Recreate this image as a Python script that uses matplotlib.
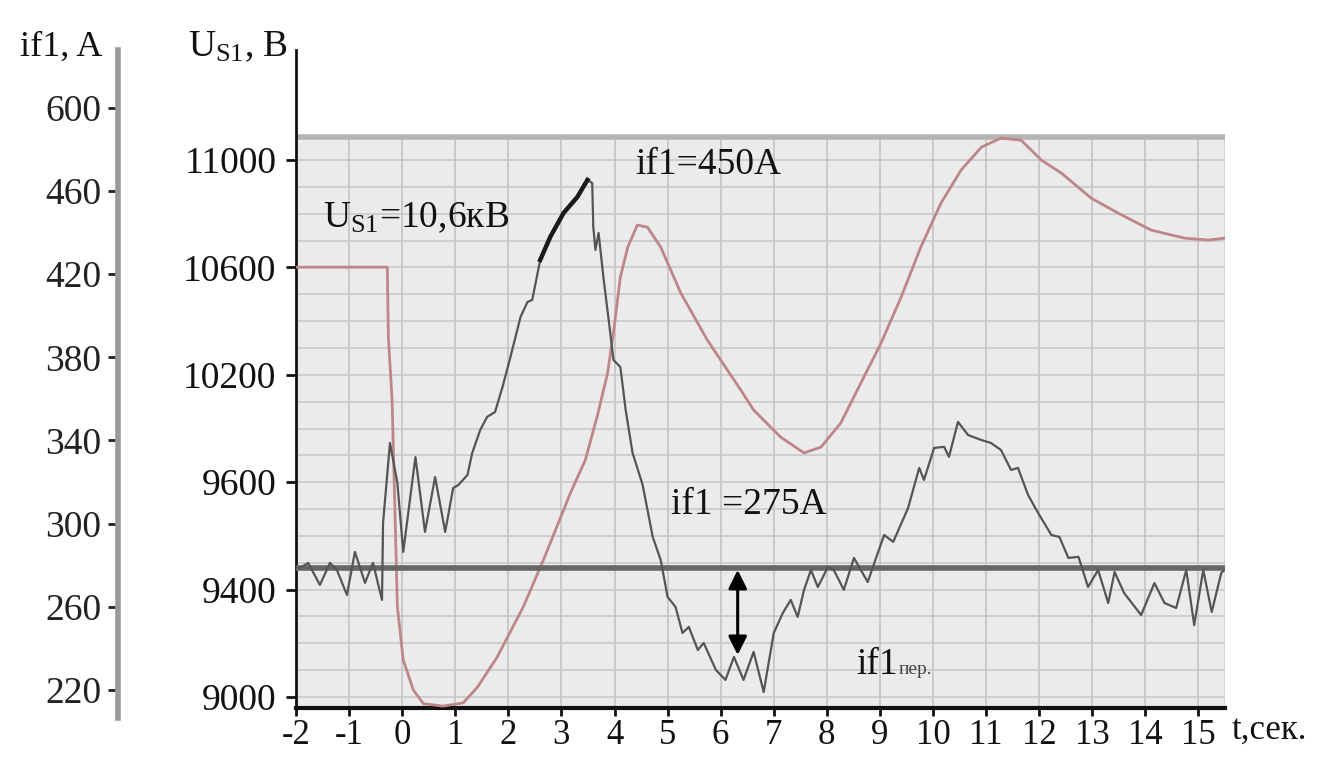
import numpy as np
import matplotlib
matplotlib.use("Agg")
import matplotlib.pyplot as plt

plt.rcParams['font.family'] = ['Liberation Serif', 'DejaVu Serif']
plt.rcParams['mathtext.fontset'] = 'custom'
plt.rcParams['mathtext.rm'] = 'Liberation Serif'
plt.rcParams['mathtext.it'] = 'Liberation Serif:italic'

# ---------------- data ----------------
# field current i_f1 (gray, noisy) -- time [s], current [A]
t_if = [-2.00, -1.92, -1.77, -1.55, -1.36, -1.23, -1.04, -0.89, -0.70, -0.55, -0.38,
        -0.36, -0.23, -0.09, 0.02, 0.25, 0.43, 0.62, 0.81, 0.96, 1.06, 1.23, 1.32,
        1.47, 1.60, 1.75, 1.89, 2.04, 2.23, 2.36, 2.45, 2.60, 2.79, 3.04, 3.30, 3.49,
        3.58, 3.60, 3.64, 3.70, 3.79, 3.89, 3.98, 4.11, 4.21, 4.34, 4.53, 4.72, 4.87,
        5.00, 5.15, 5.28, 5.40, 5.57, 5.68, 5.91, 6.09, 6.25, 6.43, 6.62, 6.81, 7.00,
        7.17, 7.32, 7.45, 7.57, 7.70, 7.83, 8.02, 8.13, 8.32, 8.51, 8.77, 8.96, 9.08,
        9.25, 9.53, 9.74, 9.83, 10.02, 10.21, 10.30, 10.47, 10.66, 10.91, 11.09, 11.28,
        11.47, 11.60, 11.79, 11.98, 12.23, 12.38, 12.55, 12.74, 12.92, 13.11, 13.30,
        13.42, 13.60, 13.92, 14.17, 14.36, 14.58, 14.77, 14.92, 15.09, 15.25, 15.43, 15.49]
i_f1 = [279.1, 278.7, 281.1, 270.5, 281.1, 277.7, 265.7, 286.4, 271.5, 281.1, 263.3,
        300.3, 338.8, 319.5, 286.4, 332.0, 296.0, 322.4, 296.0, 317.1, 318.6, 323.4, 334.0,
        345.0, 351.3, 353.7, 365.7, 380.2, 399.4, 406.6, 407.6, 426.8, 437.9, 449.4, 457.1, 465.3,
        463.8, 442.7, 431.6, 439.8, 418.6, 398.0, 378.7, 375.3, 354.7, 334.0, 318.6, 293.6, 282.5,
        264.7, 259.9, 247.4, 250.3, 239.2, 242.6, 229.6, 224.8, 235.9, 224.8, 238.3, 219.0, 247.4,
        257.0, 263.3, 255.1, 268.1, 277.7, 269.5, 279.1, 277.7, 268.1, 283.5, 271.9, 285.9, 294.5,
        291.2, 307.5, 326.8, 321.0, 336.4, 336.9, 332.1, 348.9, 342.6, 340.2, 338.8, 335.4,
        325.8, 326.8, 313.8, 305.1, 294.5, 293.6, 283.5, 284.0, 269.5, 277.7, 261.8,
        276.7, 266.6, 256.0, 271.4, 261.8, 259.4, 277.7, 251.2, 277.7, 257.5, 276.3, 277.7]

# stator voltage U_S1 (red) -- time [s], voltage [V]
t_u = [-2.00, -0.28, -0.26, -0.19, -0.09, 0.02, 0.21, 0.40, 0.77, 1.15, 1.42, 1.79,
       2.28, 2.66, 3.17, 3.45, 3.68, 3.87, 3.98, 4.11, 4.25, 4.43, 4.62, 4.87, 5.25,
       5.75, 6.00, 6.38, 6.62, 7.13, 7.57, 7.89, 8.26, 8.64, 9.02, 9.40, 9.77, 10.15,
       10.53, 10.91, 11.28, 11.66, 12.04, 12.42, 12.98, 13.49, 14.11, 14.74, 15.19, 15.49]
u_s1 = [10601, 10601, 10341, 10106, 9335, 9138, 9026, 8975, 8966, 8978, 9037, 9149,
        9335, 9510, 9760, 9883, 10050, 10207, 10356, 10564, 10676, 10758, 10750, 10676, 10504,
        10329, 10255, 10143, 10069, 9968, 9909, 9931, 10020, 10169, 10318, 10490, 10676, 10840,
        10963, 11048, 11082, 11074, 11000, 10951, 10858, 10802, 10739, 10709, 10702, 10709]

if1_ref = 278.7          # steady level labelled "i_f1 = 275A"
if1_dip = 236.8          # arrow end (i_f1 пер.)
t_arrow = 6.32

x_ticks = list(range(-2, 16))
u_tick_pos = [9000, 9400, 9800, 10200, 10600, 11000]
u_tick_lbl = ['9000', '9400', '9600', '10200', '10600', '11000']
i_tick_pos = [500, 460, 420, 380, 340, 300, 260, 220]
i_tick_lbl = ['600', '460', '420', '380', '340', '300', '260', '220']

# ---------------- figure ----------------
W, H = 1336, 761
fig = plt.figure(figsize=(W / 100, H / 100), dpi=100)
fig.patch.set_facecolor('white')

def fx(px):
    return px / W

def fy(py):
    return 1 - py / H

# main axes (U scale)
ax = fig.add_axes([fx(296), fy(708), fx(1225) - fx(296), fy(50) - fy(708)])
U_BOT, U_TOP, U_PANEL = 8959, 11410, 11086
ax.set_xlim(-2, 15.5)
ax.set_ylim(U_BOT, U_TOP)
ax.set_facecolor('none')
for s in ['top', 'right']:
    ax.spines[s].set_visible(False)
ax.spines['left'].set_linewidth(2)
ax.spines['left'].set_color('#111111')
ax.spines['bottom'].set_linewidth(3)
ax.spines['bottom'].set_color('#111111')

# panel background and grid
ax.axhspan(U_BOT, U_PANEL, xmin=0, xmax=1, color='#ebebeb', zorder=0, lw=0)
ax.hlines(np.arange(9000, 11001, 100), -2, 15.5, color='#cdcdcd', lw=1.3, zorder=1)
ax.vlines(x_ticks, U_BOT, U_PANEL, color='#c4c4c4', lw=1.2, zorder=1)
ax.vlines(15.5, U_BOT, U_PANEL, color='#d4d4d4', lw=2, zorder=1)
ax.hlines(U_PANEL, -2, 15.5, color='#b4b4b4', lw=4, zorder=2)

ax.plot(t_u, u_s1, color='#bd8688', lw=2.0, zorder=3, solid_joinstyle='round')

ax.set_xticks(x_ticks)
ax.set_xticklabels([str(v) for v in x_ticks])
ax.set_yticks(u_tick_pos)
ax.set_yticklabels(u_tick_lbl)
ax.tick_params(axis='y', direction='out', length=7, width=2, pad=7,
               labelsize=27, colors='#111111')
ax.tick_params(axis='x', direction='out', length=6, width=2, pad=2,
               labelsize=25, colors='#111111')

# twin axes for the field current (gray curve)
axi = ax.twinx()
axi.set_ylim(211.3, 527.8)
axi.set_xlim(-2, 15.5)
for s in axi.spines.values():
    s.set_visible(False)
axi.set_yticks([])
axi.axhline(if1_ref, color='#666666', lw=4, zorder=3)
axi.plot(t_if, i_f1, color='#555555', lw=1.6, zorder=4, solid_joinstyle='round')
tt = np.array(t_if)
ii = np.array(i_f1)
m = (tt >= 2.55) & (tt <= 3.5)
axi.plot(tt[m], ii[m], color='#1a1a1a', lw=3.2, zorder=5)
axi.annotate('', xy=(t_arrow, if1_ref - 1), xytext=(t_arrow, if1_dip),
             arrowprops=dict(arrowstyle='<|-|>', color='black', lw=2.2,
                             mutation_scale=28, shrinkA=0, shrinkB=0), zorder=6)

# outer axis for i_f1
axl = fig.add_axes([fx(118), fy(718), 0.0005, fy(50) - fy(718)])
axl.set_ylim(206.5, 527.8)
axl.set_xticks([])
axl.set_facecolor('none')
for s in ['top', 'right', 'bottom']:
    axl.spines[s].set_visible(False)
axl.spines['left'].set_linewidth(4)
axl.spines['left'].set_color('#9a9a9a')
axl.set_yticks(i_tick_pos)
axl.set_yticklabels(i_tick_lbl)
axl.tick_params(axis='y', direction='out', length=7, width=2, pad=5,
                labelsize=27, colors='#222222')

# axis titles
fig.text(fx(20), fy(47), 'if1, A', fontsize=26, va='center', ha='left', color='#111111')
fig.text(fx(188), fy(47), r'U$_{\mathrm{S1}}$, B', fontsize=27, va='center', ha='left',
         color='#111111')
fig.text(fx(1232), fy(730), 't,сек.', fontsize=25, va='center', ha='left', color='#111111')

# in-plot annotations
ax.text(-1.5, 10784, r'U$_{\mathrm{S1}}$=10,6кВ', fontsize=27, va='center', ha='left',
        color='#111111', zorder=7)
ax.text(4.40, 10981, 'if1=450A', fontsize=27, va='center', ha='left', color='#111111', zorder=7)
ax.text(5.06, 9715, 'if1 =275A', fontsize=27, va='center', ha='left', color='#111111', zorder=7)
ax.text(8.55, 9085, 'if1', fontsize=27, va='baseline', ha='left', color='#111111', zorder=7)
ax.text(9.36, 9085, 'пер.', fontsize=14, va='baseline', ha='left', color='#444444', zorder=7)

fig.savefig('out.png', dpi=100, facecolor='white')
